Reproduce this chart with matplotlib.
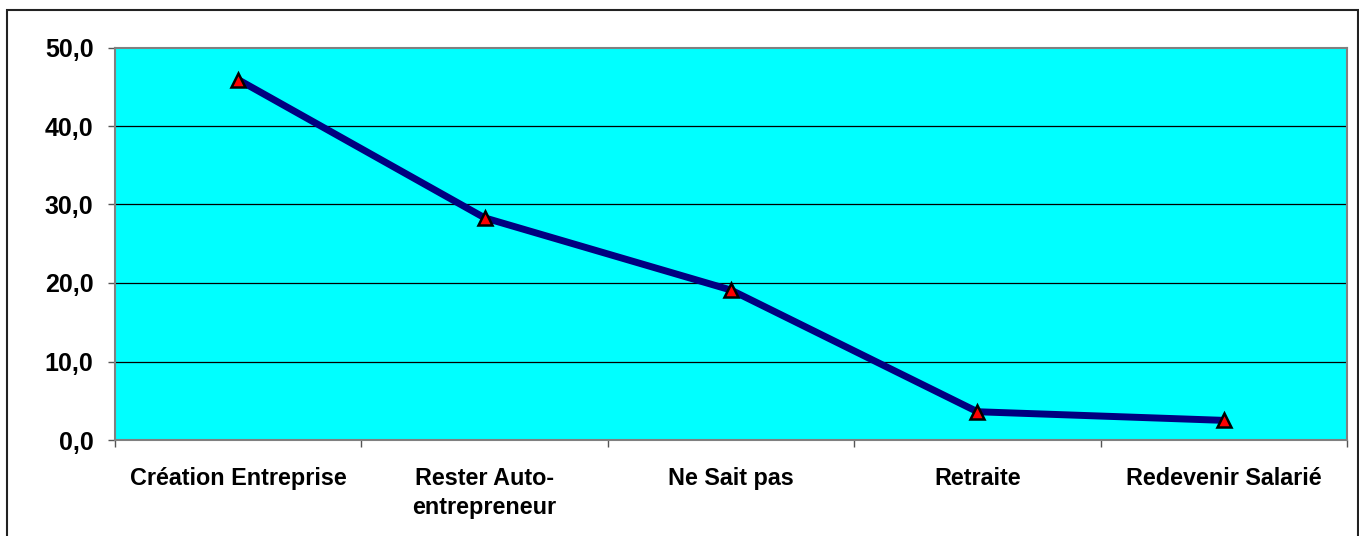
import matplotlib.pyplot as plt
from matplotlib.patches import Rectangle

categories = ['Création Entreprise', 'Rester Auto-\nentrepreneur', 'Ne Sait pas',
              'Retraite', 'Redevenir Salarié']
values = [45.9, 28.3, 19.1, 3.6, 2.5]
yticks = [0, 10, 20, 30, 40, 50]

plt.rcParams['font.family'] = ['Liberation Sans', 'DejaVu Sans']

fig = plt.figure(figsize=(13.59, 5.36), dpi=100)
ax = fig.add_axes([115 / 1359, 96 / 536, 1232 / 1359, 392.5 / 536])

# outer frame of the chart (bottom edge falls outside the image)
fig.patches.append(Rectangle((7 / 1359, -0.05), 1351 / 1359, 0.05 + 526 / 536,
                             transform=fig.transFigure, fill=False,
                             edgecolor='#222222', linewidth=1.5))

ax.set_facecolor('#00FFFF')
x = list(range(len(values)))
ax.plot(x, values, color='#000080', linewidth=5, marker='^', markersize=10.5,
        markerfacecolor='#FF0000', markeredgecolor='black', markeredgewidth=1.8,
        solid_capstyle='butt', zorder=3)

ax.set_xlim(-0.5, 4.5)
ax.set_ylim(0, 50)
ax.set_yticks(yticks)
ax.set_yticklabels([f'{v:.1f}'.replace('.', ',') for v in yticks],
                   fontsize=18, fontweight='bold')
for v in yticks[1:-1]:
    ax.axhline(v, color='black', linewidth=0.9, zorder=1)

ax.set_xticks([i - 0.5 for i in range(len(values) + 1)])
ax.set_xticklabels([])
ax.tick_params(axis='x', length=5, color='#555555', width=1)
ax.tick_params(axis='y', length=5, color='#555555', width=1, pad=10.5)
for i, lab in enumerate(categories):
    ax.text(i, -3.5, lab, ha='center', va='top', fontsize=16.8, fontweight='bold',
            linespacing=1.28)

for s in ax.spines.values():
    s.set_color('#808080')
    s.set_linewidth(1.5)

fig.savefig('out.png', dpi=100)
